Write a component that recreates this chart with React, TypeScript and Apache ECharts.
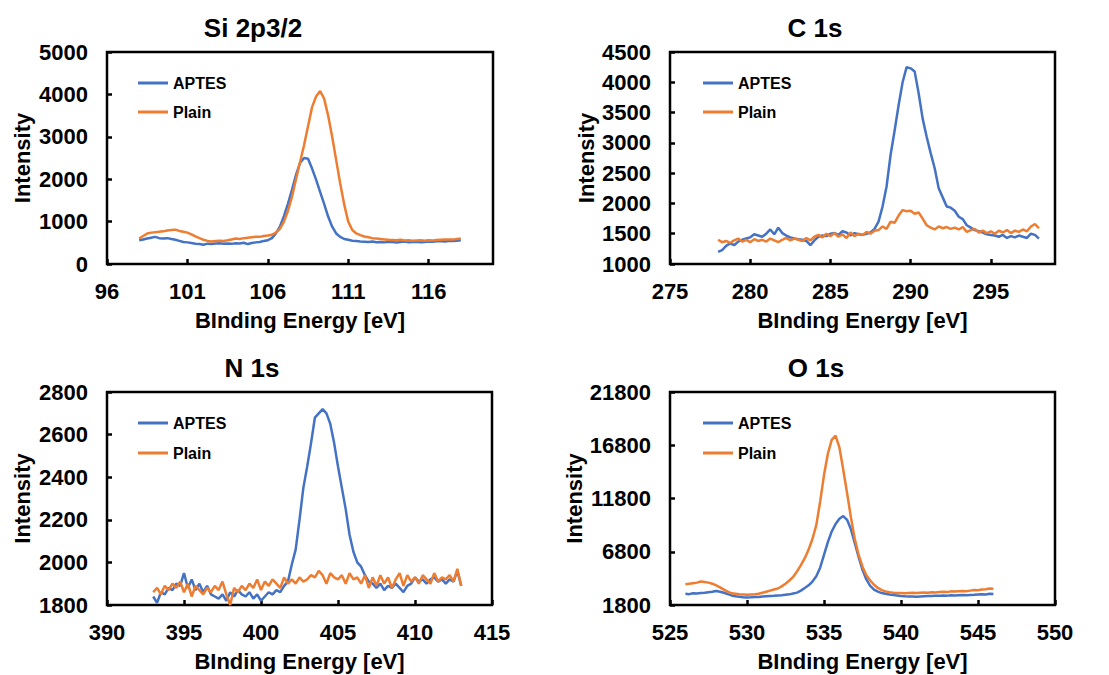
import React, { useEffect, useRef } from "react";
import * as echarts from "echarts";

// ---------- DATA ----------
const seriesNames = ["APTES", "Plain"];
const panelTitles = ["Si 2p3/2", "C 1s", "N 1s", "O 1s"];
const xAxisName = "BInding Energy [eV]";
const yAxisName = "Intensity";

// energy grids: start value, 0.25 eV sampling, 81 points each
const siStart = 98;
const cStart = 278;
const nStart = 393;
const oStart = 526;
const energyStep = 0.25;

const siXTicks = [96, 101, 106, 111, 116];
const cXTicks = [275, 280, 285, 290, 295];
const oYTicks = [1800, 6800, 11800, 16800, 21800];

const siAPTES = [
  560, 580, 600, 620, 640, 610, 600, 610, 590, 570, 545, 520, 510, 495, 480, 470,
  455, 480, 470, 485, 490, 480, 485, 475, 490, 485, 500, 470, 495, 510, 520, 545,
  560, 610, 720, 880, 1130, 1420, 1750, 2100, 2380, 2500, 2480, 2250, 1990, 1700,
  1420, 1120, 880, 720, 640, 590, 570, 550, 540, 530, 525,
  520, 530, 515, 520, 510, 525, 520, 505, 520, 530, 515, 520, 525, 515, 520, 530,
  525, 535, 540, 530, 545, 540, 550, 560,
];
const siPlain = [
  600, 660, 720, 740, 750, 760, 770, 790, 800, 810, 780, 760, 740, 700, 650, 610,
  570, 545, 530, 540, 550, 545, 560, 580, 600, 590, 610, 620, 630, 640, 640, 660,
  670, 690, 740, 830, 1000, 1250, 1580, 2000, 2400, 2800, 3250, 3700, 3950, 4080,
  3900, 3500, 3000, 2450, 1900, 1400, 1000, 800, 720, 680, 650,
  630, 610, 600, 590, 580, 570, 565, 560, 570, 555, 560, 550, 555, 560, 550, 560,
  555, 565, 570, 575, 580, 575, 590, 600,
];

const cAPTES = [
  1200, 1230, 1300, 1340, 1310, 1370, 1400, 1420, 1440, 1490, 1470, 1450, 1500, 1570,
  1490, 1600, 1510, 1470, 1440, 1420, 1410, 1400, 1380, 1310, 1390, 1450, 1470, 1460,
  1500, 1510, 1480, 1540, 1520, 1470, 1510, 1490, 1480, 1500, 1520, 1580,
  1700, 1950, 2280, 2800, 3200, 3620, 4000, 4250, 4230, 4180, 3820, 3400, 3100, 2830,
  2580, 2250, 2100, 1950, 1930, 1880, 1780, 1740, 1640, 1600, 1560, 1540, 1520, 1490,
  1480, 1470, 1450, 1480, 1430, 1460, 1440, 1470, 1450, 1430, 1500, 1480, 1420,
];
const cPlain = [
  1400, 1360, 1380, 1350, 1390, 1420, 1370, 1400, 1360, 1410, 1380, 1400, 1370, 1420,
  1390, 1360, 1400, 1430, 1390, 1420, 1400, 1380, 1430, 1390, 1450, 1480, 1440, 1500,
  1460, 1510, 1450, 1490, 1430, 1520, 1460, 1500, 1480, 1530, 1500, 1550,
  1560, 1620, 1580, 1700, 1680, 1800, 1890, 1870, 1880, 1830, 1850, 1750, 1640, 1600,
  1570, 1620, 1590, 1610, 1580, 1600, 1570, 1610, 1530, 1560, 1580, 1520, 1550, 1510,
  1540, 1500, 1550, 1520, 1560, 1510, 1550, 1530, 1570, 1540, 1620, 1660, 1590,
];

const nAPTES = [
  1840, 1810, 1860, 1850, 1880, 1870, 1900, 1890, 1950, 1880, 1920, 1870, 1900, 1860,
  1890, 1850, 1840, 1830, 1850, 1820, 1860, 1840, 1870, 1850, 1840, 1860, 1830, 1850,
  1820, 1840, 1860, 1850, 1870, 1860, 1890, 1910,
  1990, 2060, 2200, 2350, 2450, 2560, 2680, 2700, 2720, 2700, 2650, 2560, 2450, 2350,
  2250, 2130, 2050, 2000, 1980, 1940, 1910, 1900, 1880,
  1900, 1870, 1890, 1880, 1900, 1880, 1860, 1890, 1900, 1930, 1910, 1920, 1900, 1920,
  1930, 1910, 1920, 1900, 1920, 1910, 1960, 1890,
];
const nPlain = [
  1860, 1880, 1850, 1890, 1870, 1900, 1880, 1910, 1860, 1900, 1840, 1890, 1870, 1850,
  1880, 1860, 1890, 1870, 1910, 1850, 1800, 1880, 1860, 1890, 1870, 1900, 1880, 1920,
  1870, 1910, 1890, 1920, 1900, 1880, 1930, 1900, 1920, 1900, 1930, 1910, 1920, 1940,
  1930, 1960, 1940, 1900, 1950, 1930, 1920, 1940, 1900, 1950, 1920, 1930, 1900, 1940,
  1880, 1930, 1890, 1940, 1900, 1930, 1880, 1920, 1950, 1890, 1940, 1910, 1930, 1900,
  1940, 1920, 1900, 1950, 1910, 1930, 1920, 1940, 1910, 1970, 1890,
];

const oAPTES = [
  2850, 2820, 2900, 2880, 2920, 2950, 3000, 3050, 3120, 3050, 2950, 2820, 2700, 2620,
  2580, 2530, 2500, 2520, 2560, 2550, 2600, 2620, 2640, 2660, 2700, 2720, 2760, 2800,
  2880, 2960, 3150, 3400, 3650, 4000, 4500, 5300, 6500, 7700, 8700, 9400, 9900, 10150,
  9800, 8900, 7600, 6300, 5100, 4200, 3600, 3250, 3050, 2920, 2850, 2780, 2740, 2700,
  2650, 2620, 2600, 2590, 2570, 2600, 2620, 2640, 2650, 2680, 2660, 2700, 2680, 2710,
  2700, 2720, 2740, 2720, 2750, 2760, 2780, 2800, 2790, 2850, 2830,
];
const oPlain = [
  3750, 3800, 3850, 3900, 4000, 3950, 3900, 3800, 3650, 3450, 3250, 3050, 2900, 2850,
  2800, 2780, 2760, 2780, 2800, 2850, 2950, 3050, 3150, 3250, 3350, 3550, 3800, 4100,
  4450, 4950, 5550, 6200, 7000, 8000, 9300, 11500, 14000, 16000, 17300, 17700, 16600,
  14500, 12300, 10000, 8000, 6500, 5400, 4600, 4100, 3700, 3400, 3200, 3080, 3000,
  2950, 2930, 2920, 2900, 2930, 2950, 2920, 2960, 2980, 2950, 3000, 2980, 3020, 3050,
  3030, 3080, 3060, 3100, 3120, 3100, 3150, 3200, 3180, 3250, 3280, 3350, 3330,
];

// ---------- STYLE ----------
const FONT = '"Liberation Sans", Arial, sans-serif';
const BLUE = "#4472C4";
const ORANGE = "#ED7D31";

function energies(start: number, n: number): number[] {
  return Array.from({ length: n }, (_, i) => +(start + i * energyStep).toFixed(2));
}
function pairs(xs: number[], ys: number[]): number[][] {
  return ys.map((y, i) => [xs[i], y]);
}

const panels = [
  {
    title: panelTitles[0], x: energies(siStart, siAPTES.length), a: siAPTES, p: siPlain,
    xMin: 96, xMax: 120, xTicks: siXTicks as number[] | null, xInt: 5,
    yMin: 0, yMax: 5000, yInt: 1000, yTicks: null as number[] | null, yNameGap: 74,
    grid: { left: 107, top: 52, width: 386, height: 212 }, titleX: 253, titleY: 15,
    legend: { left: 138, top: 75, gap: 13 },
  },
  {
    title: panelTitles[1], x: energies(cStart, cAPTES.length), a: cAPTES, p: cPlain,
    xMin: 275, xMax: 299, xTicks: cXTicks, xInt: 5,
    yMin: 1000, yMax: 4500, yInt: 500, yTicks: null, yNameGap: 73,
    grid: { left: 670, top: 52, width: 385, height: 212 }, titleX: 815, titleY: 15,
    legend: { left: 703, top: 75, gap: 13 },
  },
  {
    title: panelTitles[2], x: energies(nStart, nAPTES.length), a: nAPTES, p: nPlain,
    xMin: 390, xMax: 415, xTicks: null, xInt: 5,
    yMin: 1800, yMax: 2800, yInt: 200, yTicks: null, yNameGap: 74,
    grid: { left: 107, top: 392, width: 385, height: 213 }, titleX: 252, titleY: 355,
    legend: { left: 138, top: 415, gap: 14 },
  },
  {
    title: panelTitles[3], x: energies(oStart, oAPTES.length), a: oAPTES, p: oPlain,
    xMin: 525, xMax: 550, xTicks: null, xInt: 5,
    yMin: 1800, yMax: 21800, yInt: 5000, yTicks: oYTicks, yNameGap: 84,
    grid: { left: 670, top: 392, width: 385, height: 213 }, titleX: 816, titleY: 355,
    legend: { left: 703, top: 415, gap: 14 },
  },
];

function buildOption() {
  const tickStyle = { show: true, inside: true, length: 5, lineStyle: { color: "#000", width: 2.5 } };
  const labelStyle = {
    color: "#000",
    fontFamily: FONT,
    fontWeight: "bold" as const,
    fontSize: 22,
    formatter: (v: number) => String(v),
  };
  const nameStyle = { color: "#000", fontFamily: FONT, fontWeight: "bold" as const, fontSize: 22 };
  return {
    animation: false,
    backgroundColor: "#fff",
    title: panels.map((pn) => ({
      text: pn.title,
      left: pn.titleX,
      top: pn.titleY,
      padding: 0,
      textAlign: "center",
      textStyle: { color: "#000", fontFamily: FONT, fontWeight: "bold", fontSize: 26 },
    })),
    legend: panels.map((pn) => ({
      data: seriesNames,
      orient: "vertical",
      left: pn.legend.left,
      top: pn.legend.top,
      padding: 0,
      icon: "rect",
      itemWidth: 30,
      itemHeight: 3,
      itemGap: pn.legend.gap,
      selectedMode: false,
      textStyle: { color: "#000", fontFamily: FONT, fontWeight: "bold", fontSize: 16 },
    })),
    grid: panels.map((pn) => ({
      ...pn.grid,
      show: true,
      borderColor: "#000",
      borderWidth: 2.5,
      backgroundColor: "transparent",
      containLabel: false,
    })),
    xAxis: panels.map((pn, i) => {
      const ax: any = {
        type: "value",
        gridIndex: i,
        min: pn.xMin,
        max: pn.xMax,
        name: xAxisName,
        nameLocation: "middle",
        nameGap: 45,
        nameTextStyle: nameStyle,
        axisLine: { show: false },
        axisTick: { ...tickStyle },
        axisLabel: { ...labelStyle, margin: 16 },
        splitLine: { show: false },
      };
      if (pn.xTicks) {
        ax.axisLabel.customValues = pn.xTicks;
        ax.axisTick.customValues = pn.xTicks;
      } else {
        ax.interval = pn.xInt;
      }
      return ax;
    }),
    yAxis: panels.map((pn, i) => {
      const ax: any = {
        type: "value",
        gridIndex: i,
        min: pn.yMin,
        max: pn.yMax,
        name: yAxisName,
        nameLocation: "middle",
        nameGap: pn.yNameGap,
        nameTextStyle: nameStyle,
        axisLine: { show: false },
        axisTick: { ...tickStyle },
        axisLabel: { ...labelStyle, margin: 19 },
        splitLine: { show: false },
      };
      if (pn.yTicks) {
        ax.axisLabel.customValues = pn.yTicks;
        ax.axisTick.customValues = pn.yTicks;
      } else {
        ax.interval = pn.yInt;
      }
      return ax;
    }),
    series: panels.flatMap((pn, i) => [
      {
        name: seriesNames[0],
        type: "line",
        xAxisIndex: i,
        yAxisIndex: i,
        data: pairs(pn.x, pn.a),
        symbol: "none",
        showSymbol: false,
        lineStyle: { color: BLUE, width: 2.5 },
        itemStyle: { color: BLUE },
      },
      {
        name: seriesNames[1],
        type: "line",
        xAxisIndex: i,
        yAxisIndex: i,
        data: pairs(pn.x, pn.p),
        symbol: "none",
        showSymbol: false,
        lineStyle: { color: ORANGE, width: 2.5 },
        itemStyle: { color: ORANGE },
      },
    ]),
  };
}

export default function App() {
  const ref = useRef<HTMLDivElement>(null);
  useEffect(() => {
    if (!ref.current) return;
    const chart = echarts.init(ref.current, undefined, { renderer: "svg" });
    chart.setOption(buildOption() as any);
    return () => chart.dispose();
  }, []);
  return (
    <div
      ref={ref}
      style={{ position: "fixed", left: 0, top: 0, width: 1109, height: 675, background: "#fff" }}
    />
  );
}
